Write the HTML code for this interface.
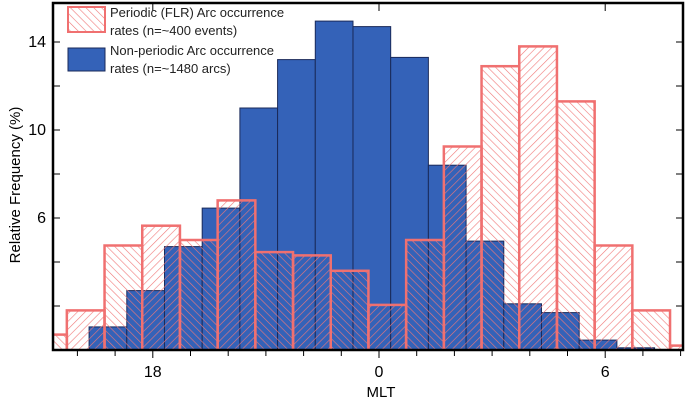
<!DOCTYPE html>
<html><head><meta charset="utf-8"><style>
body{margin:0;background:#fff;}
svg{display:block;font-family:"Liberation Sans",sans-serif;}
</style></head><body>
<svg id="chart" width="685" height="404" viewBox="0 0 685 404" xmlns="http://www.w3.org/2000/svg">
<defs>
<clipPath id="plotclip"><rect x="53" y="3" width="630" height="347"/></clipPath>
<pattern id="hatchA" patternUnits="userSpaceOnUse" width="5.5" height="5.5" patternTransform="rotate(45)"><line x1="0" y1="0" x2="0" y2="5.5" stroke="#f07878" stroke-width="1.2"/></pattern>
<pattern id="hatchB" patternUnits="userSpaceOnUse" width="5.5" height="5.5" patternTransform="rotate(-45)"><line x1="0" y1="0" x2="0" y2="5.5" stroke="#f07878" stroke-width="1.2"/></pattern>
</defs>
<g id="blue" clip-path="url(#plotclip)"></g>
<g id="red" clip-path="url(#plotclip)"></g>
<g id="axes"></g>
<text x="0" y="0" transform="translate(20,185) rotate(-90)" text-anchor="middle" font-size="15">Relative Frequency  (%)</text>
<text x="381" y="397" text-anchor="middle" font-size="15">MLT</text>
<g>
<rect x="68" y="7" width="37" height="25" fill="url(#hatchB)" stroke="#f07070" stroke-width="2"/>
<rect x="68" y="48" width="37" height="23" fill="#3462b8" stroke="#1a2a5a" stroke-width="1"/>
<text x="110" y="17" font-size="13" fill="#222">Periodic (FLR)  Arc occurrence</text>
<text x="110" y="35" font-size="13" fill="#222">rates (n=~400 events)</text>
<text x="110" y="55" font-size="13" fill="#222">Non-periodic Arc occurrence</text>
<text x="110" y="73" font-size="13" fill="#222">rates (n=~1480 arcs)</text>
</g>
</svg>
<script>
const blueCenters=[-7.19,-6.19,-5.19,-4.19,-3.19,-2.19,-1.19,-0.19,0.81,1.81,2.81,3.81,4.81,5.81,6.81];
const blueValues=[1.05,2.7,4.7,6.45,11.0,13.2,14.95,14.7,13.3,8.4,4.95,2.1,1.7,0.45,0.1];
const redCenters=[-8.78,-7.78,-6.78,-5.78,-4.78,-3.78,-2.78,-1.78,-0.78,0.22,1.22,2.22,3.22,4.22,5.22,6.22,7.22,8.22];
const redValues=[0.7,1.8,4.75,5.65,5.0,6.8,4.45,4.3,3.6,2.05,5.0,9.25,12.9,13.8,11.3,4.75,1.8,0.2];
const xTickHours=[-6,0,6];
const xTickLabels=["18","0","6"];
const yTickValues=[14,10,6];
const yTickLabels=["14","10","6"];
const NS="http://www.w3.org/2000/svg";
const X0=53,X1=683,Y0=3,Y1=350;
function xs(h){return 379+37.7*h;}
function ys(v){return 350-22*v;}
function mk(tag,attrs,parent){const e=document.createElementNS(NS,tag);for(const k in attrs)e.setAttribute(k,attrs[k]);parent.appendChild(e);return e;}
const gb=document.getElementById('blue'),gr=document.getElementById('red'),ga=document.getElementById('axes');
const bw=37.7;
blueValues.forEach((v,i)=>{
 const r=mk('rect',{x:xs(blueCenters[i])-bw/2,y:ys(v),width:bw,height:ys(0)-ys(v),fill:'#3462b8',stroke:'#1a2a5a','stroke-width':1},gb);
 
 
});
redValues.forEach((v,i)=>{
 const r=mk('rect',{x:xs(redCenters[i])-bw/2,y:ys(v),width:bw,height:ys(0)-ys(v)+3,fill:(i%2?'url(#hatchA)':'url(#hatchB)'),stroke:'#f07070','stroke-width':2.5},gr);
 
 
});
const frame=mk('rect',{x:X0,y:Y0,width:X1-X0,height:Y1-Y0,fill:'none',stroke:'#000','stroke-width':2.5},ga);


for(let h=-8;h<=8;h++){const x=xs(h);if(x<X0||x>X1)continue;
 const major=xTickHours.includes(h);
 mk('line',{x1:x,x2:x,y1:Y1,y2:Y1+(major?8:6),stroke:'#000','stroke-width':1},ga);
 if(major)mk('line',{x1:x,x2:x,y1:Y0,y2:Y0+8,stroke:'#000','stroke-width':1},ga);}
xTickHours.forEach((h,i)=>{const t=mk('text',{x:xs(h),y:377,'text-anchor':'middle','font-size':16},ga);t.textContent=xTickLabels[i];
 
 });
for(let v=2;v<=14;v+=2){const y=ys(v);
 mk('line',{x1:X0,x2:X0+7,y1:y,y2:y,stroke:'#000','stroke-width':1},ga);
 mk('line',{x1:X1-7,x2:X1,y1:y,y2:y,stroke:'#000','stroke-width':1},ga);}
yTickValues.forEach((v,i)=>{const t=mk('text',{x:46,y:ys(v)+5,'text-anchor':'end','font-size':16},ga);t.textContent=yTickLabels[i];
 
 });
</script>
</body></html>
